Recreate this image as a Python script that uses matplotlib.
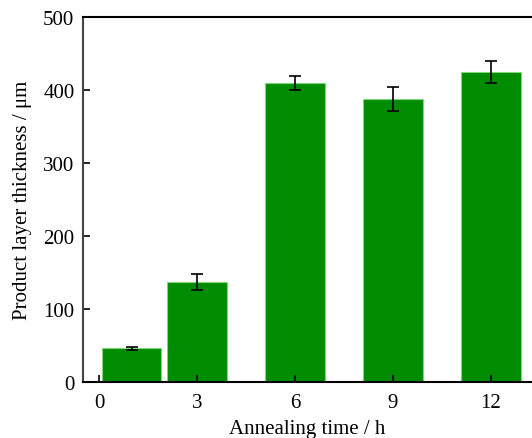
import matplotlib.pyplot as plt

# dados
tempo = [1, 3, 6, 9, 12]
espessura = [46.5, 138, 410, 388, 425]
erro = [2, 11, 10, 16, 15]
ticks_x = [0, 3, 6, 9, 12]

plt.rcParams['font.family'] = 'Liberation Serif'
plt.rcParams['font.size'] = 15

fig = plt.figure(figsize=(5.32, 4.39), dpi=100)
ax = fig.add_axes([0.1555, 0.127, 0.8445, 0.831])

ax.bar(tempo, espessura, width=1.82, color='#008c00', edgecolor='#7fd67f', linewidth=0.8,
       yerr=erro, capsize=4.5, error_kw={'elinewidth': 1.2, 'capthick': 1.2, 'ecolor': 'black'})

ax.set_xlim(-0.5, 13.26)
ax.set_ylim(0, 500)
ax.set_xticks(ticks_x)
ax.set_yticks([0, 100, 200, 300, 400, 500])
ax.tick_params(direction='in', length=5, width=1.2, labelsize=15)
ax.tick_params(axis='x', pad=8)
ax.tick_params(axis='y', pad=6)
ax.spines['right'].set_visible(False)
for s in ['left', 'bottom', 'top']:
    ax.spines[s].set_linewidth(1.5)
ax.spines['left'].set_color('#444444')

ax.set_xlabel('Annealing time / h', fontsize=15, labelpad=5)
ax.set_ylabel('Product layer thickness / μm', fontsize=15, labelpad=8)

plt.savefig('out.png', dpi=100)
